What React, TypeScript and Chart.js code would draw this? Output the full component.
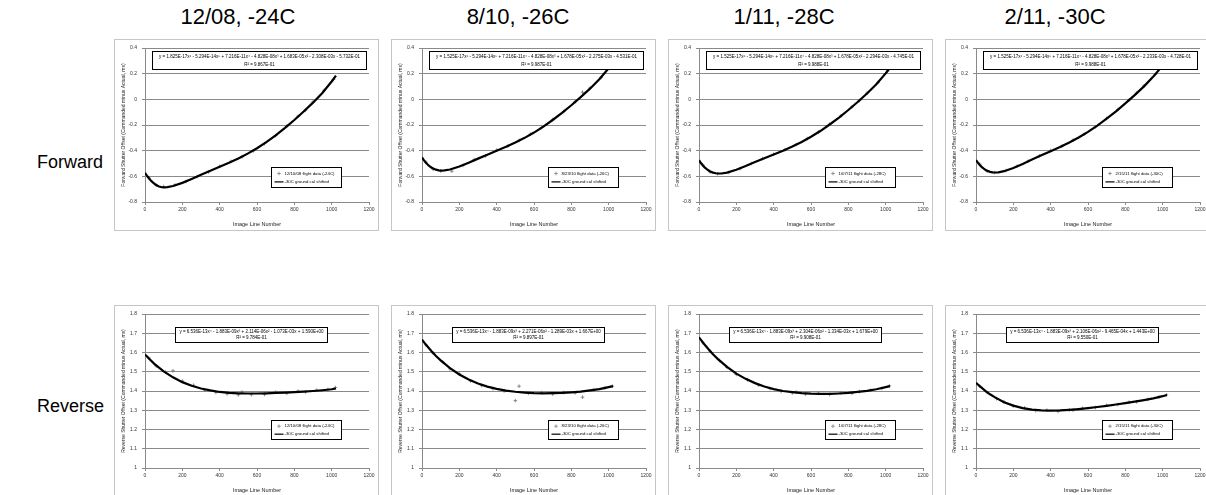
import React, { useEffect, useRef } from "react";
import { Chart, registerables } from "chart.js";

Chart.register(...registerables);

// ---------------- DATA ----------------
const COLUMN_TITLES = ["12/08, -24C", "8/10, -26C", "1/11, -28C", "2/11, -30C"];
const ROW_LABELS = ["Forward", "Reverse"];
const FLIGHT_LABELS = [
  "12/10/08 flight data (-24C)",
  "8/23/10 flight data (-26C)",
  "1/07/11 flight data (-28C)",
  "2/15/11 flight data (-30C)",
];
const CAL_LABEL = "-30C ground cal shifted";
const X_TITLE = "Image Line Number";
const Y_TITLES = [
  "Forward Shutter Offset (Commanded minus Actual, ms)",
  "Reverse Shutter Offset (Commanded minus Actual, ms)",
];

// Forward (top row) ground-cal line
const FWD_X = [0, 10, 20, 30, 40, 50, 60, 75, 90, 105, 120, 150, 200, 250, 300, 350, 400, 450, 500, 550, 600, 650, 700, 750, 800, 850, 900, 950, 1000, 1023];
const FWD_CAL_1208 = [-0.573, -0.594, -0.613, -0.630, -0.645, -0.657, -0.668, -0.679, -0.685, -0.686, -0.684, -0.675, -0.651, -0.620, -0.588, -0.557, -0.526, -0.495, -0.461, -0.423, -0.381, -0.333, -0.280, -0.223, -0.161, -0.095, -0.026, 0.050, 0.139, 0.185];
const FWD_CAL_0810 = [-0.453, -0.474, -0.492, -0.508, -0.520, -0.531, -0.539, -0.548, -0.553, -0.555, -0.554, -0.547, -0.524, -0.494, -0.462, -0.431, -0.401, -0.370, -0.337, -0.300, -0.259, -0.213, -0.161, -0.106, -0.046, 0.017, 0.083, 0.157, 0.242, 0.287];
const FWD_CAL_0111 = [-0.474, -0.496, -0.514, -0.530, -0.542, -0.553, -0.562, -0.571, -0.576, -0.578, -0.578, -0.571, -0.549, -0.520, -0.489, -0.459, -0.430, -0.400, -0.368, -0.332, -0.292, -0.247, -0.196, -0.142, -0.083, -0.021, 0.045, 0.117, 0.202, 0.246];
const FWD_CAL_0211 = [-0.473, -0.493, -0.511, -0.526, -0.538, -0.549, -0.556, -0.565, -0.569, -0.570, -0.569, -0.560, -0.535, -0.503, -0.469, -0.436, -0.404, -0.371, -0.336, -0.297, -0.254, -0.205, -0.151, -0.094, -0.032, 0.033, 0.101, 0.177, 0.264, 0.310];

// Forward flight data points
const FWD_SCAT_X = [20, 60, 100, 160, 220, 280, 340, 400, 460, 520, 580, 640, 700, 760, 820, 860, 900, 960, 1010];
const FWD_FLT_1208 = [-0.610, -0.668, -0.680, -0.668, -0.640, -0.602, -0.566, -0.522, -0.484, -0.447, -0.402, -0.345, -0.283, -0.208, -0.132, -0.085, -0.020, 0.070, 0.155];
const FWD_FLT_0810 = [-0.488, -0.545, -0.558, -0.560, -0.515, -0.470, -0.440, -0.395, -0.365, -0.320, -0.272, -0.220, -0.158, -0.095, -0.020, 0.055, 0.088, 0.170, 0.262];
const FWD_FLT_0111 = [-0.511, -0.566, -0.580, -0.570, -0.540, -0.500, -0.462, -0.428, -0.393, -0.352, -0.306, -0.255, -0.193, -0.130, -0.058, -0.010, 0.048, 0.132, 0.220];
const FWD_FLT_0211 = [-0.506, -0.560, -0.571, -0.555, -0.522, -0.482, -0.440, -0.398, -0.366, -0.318, -0.272, -0.214, -0.148, -0.080, -0.005, 0.048, 0.105, 0.193, 0.283];

// Reverse (bottom row) ground-cal line
const REV_X = [0, 25, 50, 75, 100, 150, 200, 250, 300, 350, 400, 450, 500, 550, 600, 650, 700, 750, 800, 850, 900, 950, 1000, 1023];
const REV_CAL_1208 = [1.590, 1.565, 1.541, 1.521, 1.502, 1.471, 1.446, 1.427, 1.413, 1.403, 1.395, 1.390, 1.388, 1.387, 1.387, 1.388, 1.390, 1.392, 1.394, 1.397, 1.400, 1.404, 1.409, 1.413];
const REV_CAL_0810 = [1.667, 1.636, 1.608, 1.582, 1.559, 1.519, 1.486, 1.460, 1.439, 1.423, 1.411, 1.402, 1.396, 1.392, 1.389, 1.388, 1.389, 1.390, 1.393, 1.397, 1.403, 1.410, 1.420, 1.425];
const REV_CAL_0111 = [1.679, 1.647, 1.618, 1.591, 1.567, 1.525, 1.490, 1.463, 1.441, 1.423, 1.410, 1.400, 1.394, 1.389, 1.386, 1.385, 1.385, 1.387, 1.390, 1.395, 1.401, 1.409, 1.420, 1.425];
const REV_CAL_0211 = [1.443, 1.421, 1.401, 1.383, 1.368, 1.342, 1.324, 1.311, 1.303, 1.299, 1.298, 1.299, 1.302, 1.306, 1.311, 1.317, 1.323, 1.330, 1.337, 1.345, 1.353, 1.362, 1.373, 1.379];

// Reverse flight data points
const REV_SCAT_X = [20, 60, 110, 150, 200, 260, 320, 380, 440, 500, 520, 570, 640, 700, 760, 820, 860, 920, 980, 1020];
const REV_FLT_1208 = [1.572, 1.530, 1.498, 1.505, 1.452, 1.430, 1.404, 1.392, 1.385, 1.380, 1.395, 1.381, 1.382, 1.394, 1.388, 1.399, 1.395, 1.404, 1.408, 1.418];
const REV_FLT_0810 = [1.640, 1.597, 1.552, 1.515, 1.490, 1.452, 1.428, 1.412, 1.400, 1.350, 1.425, 1.388, 1.392, 1.384, 1.392, 1.390, 1.368, 1.405, 1.416, 1.425];
const REV_FLT_0111 = [1.652, 1.606, 1.558, 1.522, 1.486, 1.458, 1.430, 1.413, 1.398, 1.390, 1.395, 1.384, 1.388, 1.382, 1.390, 1.388, 1.397, 1.404, 1.413, 1.427];
const REV_FLT_0211 = [1.425, 1.392, 1.360, 1.344, 1.322, 1.312, 1.298, 1.300, 1.294, 1.302, 1.300, 1.310, 1.314, 1.326, 1.330, 1.342, 1.344, 1.356, 1.368, 1.380];

// Trendline labels
const FWD_EQ = [
  ["y = 1.825E-17x⁶ - 5.294E-14x⁵ + 7.216E-11x⁴ - 4.828E-08x³ + 1.683E-05x² - 2.308E-03x - 5.732E-01", "R² = 9.867E-01"],
  ["y = 1.525E-17x⁶ - 5.294E-14x⁵ + 7.216E-11x⁴ - 4.828E-08x³ + 1.678E-05x² - 2.275E-03x - 4.531E-01", "R² = 9.987E-01"],
  ["y = 1.525E-17x⁶ - 5.294E-14x⁵ + 7.216E-11x⁴ - 4.828E-08x³ + 1.678E-05x² - 2.294E-03x - 4.745E-01", "R² = 9.988E-01"],
  ["y = 1.525E-17x⁶ - 5.294E-14x⁵ + 7.216E-11x⁴ - 4.828E-08x³ + 1.678E-05x² - 2.233E-03x - 4.728E-01", "R² = 9.988E-01"],
];
const REV_EQ = [
  ["y = 6.536E-13x⁴ - 1.883E-09x³ + 2.114E-06x² - 1.073E-03x + 1.590E+00", "R² = 9.784E-01"],
  ["y = 6.536E-13x⁴ - 1.883E-09x³ + 2.271E-06x² - 1.289E-03x + 1.667E+00", "R² = 9.897E-01"],
  ["y = 6.536E-13x⁴ - 1.883E-09x³ + 2.304E-06x² - 1.334E-03x + 1.679E+00", "R² = 9.908E-01"],
  ["y = 6.536E-13x⁴ - 1.883E-09x³ + 2.106E-06x² - 9.465E-04x + 1.443E+00", "R² = 9.550E-01"],
];

const FWD_CAL = [FWD_CAL_1208, FWD_CAL_0810, FWD_CAL_0111, FWD_CAL_0211];
const FWD_FLT = [FWD_FLT_1208, FWD_FLT_0810, FWD_FLT_0111, FWD_FLT_0211];
const REV_CAL = [REV_CAL_1208, REV_CAL_0810, REV_CAL_0111, REV_CAL_0211];
const REV_FLT = [REV_FLT_1208, REV_FLT_0810, REV_FLT_0111, REV_FLT_0211];

const X_MIN = 0, X_MAX = 1200, X_STEP = 200;
const Y_RANGES = [
  { min: -0.8, max: 0.4, step: 0.2 },
  { min: 1, max: 1.8, step: 0.1 },
];

// ---------------- LAYOUT / STYLE ----------------
const FONT = '"Liberation Sans", Arial, sans-serif';
const PANEL_LEFT = [114, 391, 668, 945];
const PANEL_TOP = [39, 305];
const PANEL_W = 265;
const PANEL_H = 192;
const TITLE_CENTER = [238, 518, 784, 1055];
const ROW_CENTER = [162, 406];
const GRID = "#8a8a8a";
const TICK_TEXT = "#333333";

const overlayPlugin = {
  id: "overlays",
  afterDraw(chart: any, _args: any, opts: any) {
    const { ctx, chartArea: a } = chart;
    if (!opts || !opts.eq) return;
    ctx.save();
    // equation box
    const ex = Math.round(a.left + opts.eqBox[0]) + 0.5;
    const ey = Math.round(a.top + opts.eqBox[1]) + 0.5;
    const ew = opts.eqBox[2];
    const eh = opts.eqBox[3];
    ctx.fillStyle = "#ffffff";
    ctx.fillRect(ex, ey, ew, eh);
    ctx.strokeStyle = "#000000";
    ctx.lineWidth = 1;
    ctx.strokeRect(ex, ey, ew, eh);
    ctx.fillStyle = "#000000";
    ctx.font = `${opts.eqFont}px ${FONT}`;
    ctx.textAlign = "center";
    ctx.textBaseline = "middle";
    const lh = (eh - 2) / opts.eq.length;
    opts.eq.forEach((line: string, i: number) => {
      ctx.fillText(line, ex + ew / 2, ey + 1 + lh * (i + 0.5), ew - 4);
    });
    // legend box
    const lx = Math.round(a.left + opts.legBox[0]) + 0.5;
    const ly = Math.round(a.top + opts.legBox[1]) + 0.5;
    const lw = opts.legBox[2];
    const lhh = opts.legBox[3];
    ctx.fillStyle = "#ffffff";
    ctx.fillRect(lx, ly, lw, lhh);
    ctx.strokeStyle = "#000000";
    ctx.strokeRect(lx, ly, lw, lhh);
    ctx.font = `${opts.legFont}px ${FONT}`;
    ctx.textAlign = "left";
    ctx.textBaseline = "middle";
    const r1 = ly + lhh * 0.3;
    const r2 = ly + lhh * 0.72;
    ctx.strokeStyle = "#7f7f7f";
    ctx.lineWidth = 0.8;
    ctx.beginPath();
    ctx.moveTo(lx + 7.5, r1 - 1.8);
    ctx.lineTo(lx + 7.5, r1 + 1.8);
    ctx.moveTo(lx + 5.7, r1);
    ctx.lineTo(lx + 9.3, r1);
    ctx.stroke();
    ctx.strokeStyle = "#000000";
    ctx.lineWidth = 1.2;
    ctx.beginPath();
    ctx.moveTo(lx + 3, r2);
    ctx.lineTo(lx + 12, r2);
    ctx.stroke();
    ctx.fillStyle = "#000000";
    ctx.fillText(opts.labels[0], lx + 13, r1, lw - 15);
    ctx.fillText(opts.labels[1], lx + 13, r2, lw - 15);
    ctx.restore();
  },
};

function Panel({ row, col }: { row: number; col: number }) {
  const ref = useRef<HTMLCanvasElement | null>(null);
  useEffect(() => {
    if (!ref.current) return;
    const xs = row === 0 ? FWD_X : REV_X;
    const cal = row === 0 ? FWD_CAL[col] : REV_CAL[col];
    const sx = row === 0 ? FWD_SCAT_X : REV_SCAT_X;
    const flt = row === 0 ? FWD_FLT[col] : REV_FLT[col];
    const yr = Y_RANGES[row];
    const tickFont = { family: FONT, size: 5 };
    const chart = new Chart(ref.current, {
      type: "scatter",
      data: {
        datasets: [
          {
            label: CAL_LABEL,
            data: xs.map((x, i) => ({ x, y: cal[i] })),
            showLine: true,
            pointRadius: 0,
            borderColor: "#000000",
            borderWidth: 2.2,
            order: 0,
          },
          {
            label: FLIGHT_LABELS[col],
            data: sx.map((x, i) => ({ x, y: flt[i] })),
            showLine: false,
            pointStyle: "cross",
            pointRadius: 1.8,
            borderColor: "#707070",
            backgroundColor: "#707070",
            borderWidth: 0.8,
            order: 1,
          },
        ],
      },
      options: {
        animation: false,
        responsive: false,
        events: [],
        layout: { padding: { top: 4, right: 9, left: 0, bottom: 0 } },
        plugins: {
          legend: { display: false },
          tooltip: { enabled: false },
          overlays: {
            eq: row === 0 ? FWD_EQ[col] : REV_EQ[col],
            eqFont: 4.5,
            eqBox: row === 0 ? [7, 3, 214, 18] : [30, 13, 152, 15],
            legBox: row === 0 ? [126, 119, 70, 20] : [126, 106, 70, 19],
            legFont: 4.3,
            labels: [FLIGHT_LABELS[col], CAL_LABEL],
          },
        } as any,
        scales: {
          x: {
            type: "linear",
            min: X_MIN,
            max: X_MAX,
            ticks: {
              stepSize: X_STEP,
              font: tickFont,
              color: TICK_TEXT,
              padding: 2,
              maxRotation: 0,
              autoSkip: false,
              callback: (v: any) => String(Math.round(Number(v))),
            },
            grid: { drawOnChartArea: false, drawTicks: true, tickLength: 3, color: GRID },
            border: { color: GRID },
            title: { display: true, text: X_TITLE, font: { family: FONT, size: 5.5 }, color: "#222222", padding: { top: 0, bottom: 2 } },
            afterFit: (s: any) => { s.height = 28; },
          },
          y: {
            min: yr.min,
            max: yr.max,
            ticks: {
              stepSize: yr.step,
              font: tickFont,
              color: TICK_TEXT,
              padding: 5,
              autoSkip: false,
              callback: (v: any) => String(Math.round(Number(v) * 10) / 10),
            },
            grid: { color: GRID, drawTicks: true, tickLength: 3 },
            border: { color: GRID },
            title: { display: true, text: Y_TITLES[row], font: { family: FONT, size: 5 }, color: "#222222", padding: { top: 6, bottom: 0 } },
            afterFit: (s: any) => { s.width = 30; },
          },
        },
      },
      plugins: [overlayPlugin as any],
    } as any);
    return () => chart.destroy();
  }, [row, col]);
  return (
    <div
      style={{
        position: "absolute",
        left: PANEL_LEFT[col],
        top: PANEL_TOP[row],
        width: PANEL_W - 2,
        height: PANEL_H - 2,
        border: "1px solid #c6c6c6",
        background: "#ffffff",
      }}
    >
      <canvas ref={ref} width={PANEL_W - 2} height={PANEL_H - 2} style={{ display: "block" }} />
    </div>
  );
}

export default function App() {
  return (
    <div
      style={{
        position: "absolute",
        left: 0,
        top: 0,
        width: 1206,
        height: 495,
        overflow: "hidden",
        background: "#ffffff",
        fontFamily: FONT,
      }}
    >
      {COLUMN_TITLES.map((t, c) => (
        <div
          key={t}
          style={{
            position: "absolute",
            left: TITLE_CENTER[c] - 150,
            top: 4,
            width: 300,
            textAlign: "center",
            fontSize: 22,
            lineHeight: "26px",
            color: "#000",
          }}
        >
          {t}
        </div>
      ))}
      {ROW_LABELS.map((t, r) => (
        <div
          key={t}
          style={{
            position: "absolute",
            left: 37,
            top: ROW_CENTER[r] - 12,
            fontSize: 18,
            lineHeight: "24px",
            color: "#000",
          }}
        >
          {t}
        </div>
      ))}
      {[0, 1].map((r) => [0, 1, 2, 3].map((c) => <Panel key={`${r}-${c}`} row={r} col={c} />))}
    </div>
  );
}
